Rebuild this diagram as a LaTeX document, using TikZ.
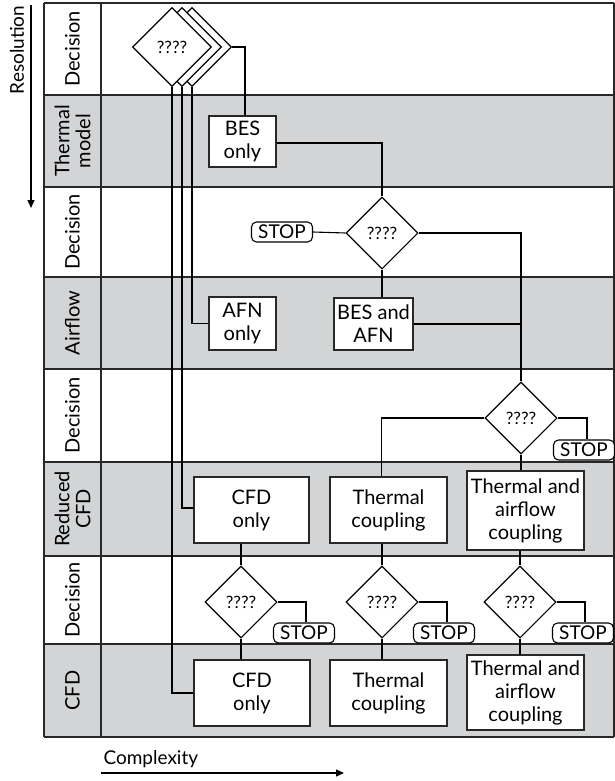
\documentclass[tikz,border=0pt]{standalone}
\usepackage{fontspec}
\setmainfont{Lato}
\usetikzlibrary{shapes.geometric,arrows.meta}
\definecolor{band}{RGB}{211,212,214}
\definecolor{rule}{RGB}{40,40,40}
\begin{document}
\begin{tikzpicture}[x=1pt,y=-1pt,
  conn/.style={line width=1.1pt,draw=black},
  procbox/.style={draw=rule,line width=1.2pt,fill=white,align=center,inner sep=0pt,
    font=\fontsize{20}{23}\selectfont},
  choice/.style={draw=black,line width=1.1pt,fill=white,shape=diamond,inner sep=0pt,
    minimum width=72pt,minimum height=72pt,font=\fontsize{17}{18}\selectfont},
  stopbox/.style={draw=black,line width=1.1pt,fill=white,rounded corners=5pt,inner sep=0pt,
    minimum width=61pt,minimum height=20pt,font=\fontsize{19}{19}\selectfont},
  rowlabel/.style={rotate=90,align=center,font=\fontsize{20}{21}\selectfont}]
\useasboundingbox (0,0) rectangle (615,781);

% shaded bands for the model rows
\foreach \ya/\yb in {95/187,277/369,462/556,644/737}
  \fill[band] (44,\ya) rectangle (614,\yb);

% table rules
\foreach \yy in {3,95,187,277,369,462,556,644,737}
  \draw[rule,line width=1.3pt] (44,\yy) -- (614,\yy);
\foreach \xx in {44,101,614}
  \draw[rule,line width=1.3pt] (\xx,3) -- (\xx,737);

% row labels
\node[rowlabel] (l1) at (72.5,49) {Decision};
\node[rowlabel] (l2) at (72.5,141) {Thermal\\model};
\node[rowlabel] (l3) at (72.5,232) {Decision};
\node[rowlabel] (l4) at (72.5,323) {Airflow};
\node[rowlabel] (l5) at (72.5,415.5) {Decision};
\node[rowlabel] (l6) at (72.5,509) {Reduced\\CFD};
\node[rowlabel] (l7) at (72.5,600) {Decision};
\node[rowlabel] (l8) at (72.5,690.5) {CFD};

% axes
\node[rotate=90,font=\fontsize{19}{20}\selectfont] (res) at (17,50) {Resolution};
\coordinate (resA) at (31,5);
\coordinate (resB) at (31,208);
\draw[line width=1.1pt,-{Triangle[length=8pt,width=7pt]}] (resA) -- (resB);
\node[anchor=west,font=\fontsize{19}{20}\selectfont] (cpx) at (100,759) {Complexity};
\coordinate (cpxA) at (101,773);
\coordinate (cpxB) at (344,773);
\draw[line width=1.1pt,-{Triangle[length=8pt,width=7pt]}] (cpxA) -- (cpxB);

% stacked first decision
\node[choice,minimum width=79pt,minimum height=79pt] (d0c) at (192,47) {};
\node[choice,minimum width=79pt,minimum height=79pt] (d0b) at (182,47) {};
\node[choice,minimum width=79pt,minimum height=79pt] (d0a) at (172,47) {????};

% process boxes
\node[procbox,minimum width=67pt,minimum height=51pt] (bes) at (242.5,141.5) {BES\\only};
\node[procbox,minimum width=67pt,minimum height=53pt] (afn) at (242.5,323.5) {AFN\\only};
\node[procbox,minimum width=79pt,minimum height=52pt] (besafn) at (373.5,324) {BES and\\AFN};
\node[procbox,minimum width=115pt,minimum height=66pt] (cfdr) at (251.5,510) {CFD\\only};
\node[procbox,minimum width=117pt,minimum height=66pt] (thr) at (388.5,510) {Thermal\\coupling};
\node[procbox,minimum width=117pt,minimum height=79pt] (tafr) at (525.5,510.5) {Thermal and\\airflow\\coupling};
\node[procbox,minimum width=116pt,minimum height=66pt] (cfdc) at (252,693) {CFD\\only};
\node[procbox,minimum width=117pt,minimum height=66pt] (thc) at (388.5,693) {Thermal\\coupling};
\node[procbox,minimum width=117pt,minimum height=75pt] (tafc) at (525.5,692.5) {Thermal and\\airflow\\coupling};

% later decisions
\node[choice] (d1) at (382,233) {????};
\node[choice] (d2) at (521,418) {????};
\node[choice] (d3) at (241,602) {????};
\node[choice] (d4) at (382,602) {????};
\node[choice] (d5) at (520,602) {????};

% stop terminals
\node[stopbox] (s1) at (282,232) {STOP};
\node[stopbox] (s2) at (584,450) {STOP};
\node[stopbox] (s3) at (304,633) {STOP};
\node[stopbox] (s4) at (444,633) {STOP};
\node[stopbox] (s5) at (583,633) {STOP};

% connectors from the first decision
\draw[conn] (d0c.east) -| ([xshift=2.5pt]bes.north);
\draw[conn] (d0a.south) |- (cfdc.west);
\draw[conn] (d0b.south) |- ([yshift=2pt]cfdr.west);
\draw[conn] (d0c.south) |- (afn.west);

% thermal model to second decision
\draw[conn] ([yshift=-1.5pt]bes.east) -| (d1.north);
\draw[conn] (s1.east) -- (d1.west);
\draw[conn] (d1.south) -- (d1.south |- besafn.north);
\draw[conn] (d1.east) -| (d2.north);
\draw[conn] (besafn.east) -- (besafn.east -| d2.north);

% third decision
\draw[conn] (d2.west) -| ([xshift=-7pt]thr.north);
\draw[conn] (d2.east) -| ([xshift=3pt]s2.north);
\draw[conn] (d2.south) -- (d2.south |- tafr.north);

% reduced CFD to fourth decisions
\draw[conn] (d3.north |- cfdr.south) -- (d3.north);
\draw[conn] (d4.north |- thr.south) -- (d4.north);
\draw[conn] (d5.north |- tafr.south) -- (d5.north);
\draw[conn] (d3.east) -| ([xshift=2pt]s3.north);
\draw[conn] (d4.east) -| ([xshift=3pt]s4.north);
\draw[conn] (d5.east) -| ([xshift=2pt]s5.north);
\draw[conn] (d3.south) -- (d3.south |- cfdc.north);
\draw[conn] (d4.south) -- (d4.south |- thc.north);
\draw[conn] (d5.south) -- (d5.south |- tafc.north);
\end{tikzpicture}
\end{document}
